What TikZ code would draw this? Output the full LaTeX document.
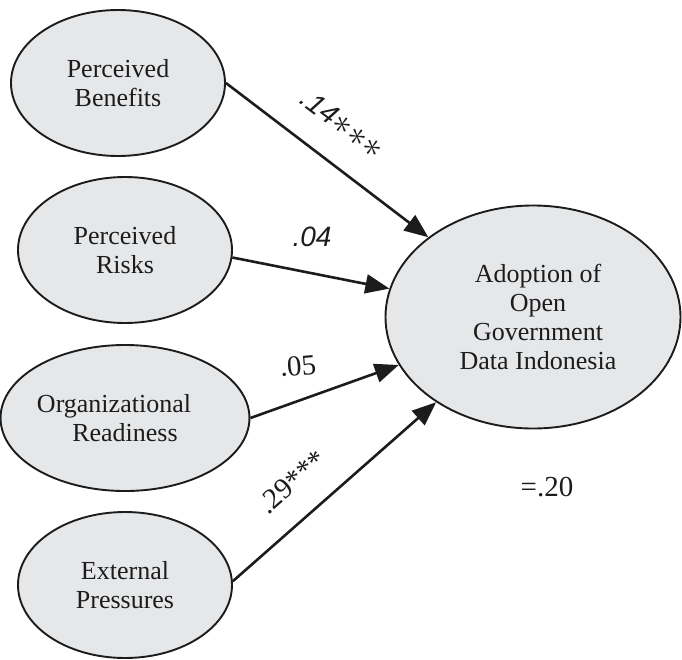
\documentclass[tikz,border=0pt]{standalone}
\usepackage{fontspec}
\setmainfont{Liberation Serif}
\newfontfamily\lsans{Liberation Sans}
\usetikzlibrary{shapes.geometric,arrows.meta}
\definecolor{ellfill}{HTML}{E6E7E9}
\definecolor{ink}{HTML}{1C1C1C}
\newcommand{\sigstar}{\raisebox{-0.02em}{\scalebox{1.5}{$\ast$}}}
\begin{document}
\begin{tikzpicture}[x=1pt,y=-1pt,
  cons/.style={ellipse,draw=ink,line width=1.9pt,fill=ellfill,inner sep=0pt,
    minimum width=214pt,minimum height=146pt,align=center,text=ink,
    font=\fontsize{26}{29}\selectfont},
  bigell/.style={cons,minimum width=295pt,minimum height=223pt},
  path/.style={draw=ink,line width=2.6pt,-{Triangle[length=24pt,width=19pt]}},
  coef/.style={text=ink,inner sep=0pt,font=\fontsize{29}{33}\selectfont},
  coefs/.style={coef,font=\lsans\itshape\fontsize{28}{32}\selectfont}]
\useasboundingbox (0,0) rectangle (682,659);
\node[cons] (pb) at (118,83) {Perceived\\Benefits};
\node[cons] (pr) at (125,250) {Perceived\\Risks};
\node[cons] (or) at (125,418) {Organizational\hspace*{22pt}\\Readiness};
\node[cons] (ep) at (125,585) {External\\Pressures};
\node[bigell] (ad) at (533,317) {\hspace*{10pt}Adoption of\\\hspace*{10pt}Open\\\hspace*{10pt}Government\\\hspace*{10pt}Data Indonesia};
\draw[path] (pb.east) -- (ad);
\draw[path] (pr.-4) -- (ad);
\draw[path] (or.east) -- (ad);
\draw[path] (ep.2) -- (ad);
\node[coefs,rotate=-37] (l1) at (342,124) {.14\sigstar\sigstar\sigstar};
\node[coefs] (l2) at (312,237) {.04};
\node[coef,rotate=5] (l3) at (298,366) {.05};
\node[coef,rotate=41] (l4) at (292,482) {.29***};
\node[coef] (r2) at (547,487) {=.20};
\end{tikzpicture}
\end{document}
